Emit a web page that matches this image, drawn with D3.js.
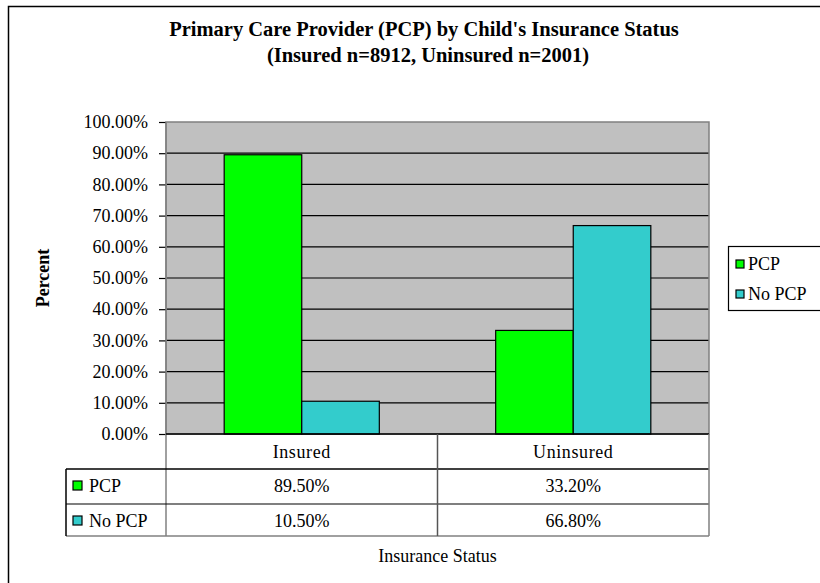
<!DOCTYPE html>
<html>
<head>
<meta charset="utf-8">
<script src="https://cdn.jsdelivr.net/npm/d3@7"></script>
<style>
  body { margin: 0; background: #fff; }
  svg { display: block; font-family: "Liberation Serif", "Times New Roman", serif; }
</style>
</head>
<body>
<svg width="820" height="583"></svg>
<script>
// data
var categories = ["Insured", "Uninsured"];
var seriesNames = ["PCP", "No PCP"];
var pcpValues = [89.5, 33.2];
var noPcpValues = [10.5, 66.8];
var yTicks = [0, 10, 20, 30, 40, 50, 60, 70, 80, 90, 100];
var colors = ["#00FF00", "#33CCCC"];

var seriesValues = [pcpValues, noPcpValues];

var svg = d3.select("svg"),
    margin = {top: 122, left: 166, right: 111, bottom: 149},
    width = 820 - margin.left - margin.right,
    height = 583 - margin.top - margin.bottom;

// chart area border (runs off the right and bottom of the picture)
svg.append("rect")
    .attr("x", 8.5).attr("y", 6.5)
    .attr("width", 900).attr("height", 700)
    .attr("fill", "#fff").attr("stroke", "#000").attr("stroke-width", 1.5);

svg.append("text")
    .attr("x", 424).attr("y", 36)
    .attr("text-anchor", "middle")
    .style("font-size", "20.5px").style("font-weight", "bold")
    .text("Primary Care Provider (PCP) by Child's Insurance Status");
svg.append("text")
    .attr("x", 428).attr("y", 62)
    .attr("text-anchor", "middle")
    .style("font-size", "20.5px").style("font-weight", "bold")
    .text("(Insured n=8912, Uninsured n=2001)");

var g = svg.append("g").attr("transform", "translate(" + margin.left + "," + margin.top + ")");

var x0 = d3.scaleBand().domain(categories).range([0, width]);
var x1 = d3.scaleBand().domain(seriesNames).range([0, x0.bandwidth()]).paddingOuter(0.75);
var y = d3.scaleLinear().domain([0, 100]).range([height, 0]);

// plot area
g.append("rect")
    .attr("width", width).attr("height", height)
    .attr("fill", "#C0C0C0");

g.selectAll(".grid")
    .data(yTicks.slice(1, -1))
    .enter().append("line")
        .attr("class", "grid")
        .attr("x1", 0).attr("x2", width)
        .attr("y1", function(d) { return y(d); })
        .attr("y2", function(d) { return y(d); })
        .attr("stroke", "#000").attr("stroke-width", 1.2);

g.append("rect")
    .attr("width", width).attr("height", height)
    .attr("fill", "none").attr("stroke", "#808080").attr("stroke-width", 1.5);

// bars
g.selectAll(".cat")
    .data(categories)
    .enter().append("g")
        .attr("class", "cat")
        .attr("transform", function(d) { return "translate(" + x0(d) + ",0)"; })
    .selectAll("rect")
    .data(function(d, i) { return seriesNames.map(function(s, j) { return {key: s, idx: j, value: seriesValues[j][i]}; }); })
    .enter().append("rect")
        .attr("x", function(d) { return x1(d.key); })
        .attr("y", function(d) { return y(d.value); })
        .attr("width", x1.bandwidth())
        .attr("height", function(d) { return height - y(d.value); })
        .attr("fill", function(d) { return colors[d.idx]; })
        .attr("stroke", "#000").attr("stroke-width", 1.2);

// y axis
var yAxis = g.append("g")
    .call(d3.axisLeft(y).tickValues(yTicks).tickSize(7).tickPadding(11)
        .tickFormat(function(d) { return d3.format(".2f")(d) + "%"; }));
yAxis.select(".domain").remove();
yAxis.selectAll(".tick line").attr("stroke", "#000").attr("stroke-width", 1.2);
yAxis.selectAll("text")
    .style("font-family", "Liberation Serif, serif")
    .style("font-size", "18px").attr("fill", "#000");
g.append("line")
    .attr("x1", 0).attr("x2", 0).attr("y1", 0).attr("y2", height + 102)
    .attr("stroke", "#808080").attr("stroke-width", 1.5);

svg.append("text")
    .attr("transform", "translate(49," + (margin.top + height / 2) + ") rotate(-90)")
    .attr("text-anchor", "middle")
    .style("font-size", "18px").style("font-weight", "bold")
    .text("Percent");

// data table under the plot
var rowH = [35, 35, 32];
var tableLeft = 66 - margin.left;
var tbl = g.append("g").attr("transform", "translate(0," + height + ")");

tbl.append("line")
    .attr("x1", 0).attr("x2", width).attr("y1", 0).attr("y2", 0)
    .attr("stroke", "#000").attr("stroke-width", 1.5);
tbl.append("line")
    .attr("x1", tableLeft).attr("x2", width).attr("y1", rowH[0]).attr("y2", rowH[0])
    .attr("stroke", "#000").attr("stroke-width", 1.5);
tbl.append("line")
    .attr("x1", tableLeft).attr("x2", width).attr("y1", rowH[0] + rowH[1]).attr("y2", rowH[0] + rowH[1])
    .attr("stroke", "#000").attr("stroke-width", 1.2);
tbl.append("line")
    .attr("x1", tableLeft).attr("x2", width).attr("y1", rowH[0] + rowH[1] + rowH[2]).attr("y2", rowH[0] + rowH[1] + rowH[2])
    .attr("stroke", "#808080").attr("stroke-width", 1.5);
tbl.append("line")
    .attr("x1", tableLeft).attr("x2", tableLeft).attr("y1", rowH[0]).attr("y2", rowH[0] + rowH[1] + rowH[2])
    .attr("stroke", "#000").attr("stroke-width", 1.5);
tbl.append("line")
    .attr("x1", width).attr("x2", width).attr("y1", 0).attr("y2", rowH[0] + rowH[1] + rowH[2])
    .attr("stroke", "#808080").attr("stroke-width", 1.5);
tbl.selectAll(".vsep")
    .data(categories.slice(1))
    .enter().append("line")
        .attr("class", "vsep")
        .attr("x1", function(d) { return x0(d); })
        .attr("x2", function(d) { return x0(d); })
        .attr("y1", 0).attr("y2", rowH[0] + rowH[1] + rowH[2])
        .attr("stroke", "#555").attr("stroke-width", 1.5);

tbl.selectAll(".catlabel")
    .data(categories)
    .enter().append("text")
        .attr("class", "catlabel")
        .attr("x", function(d) { return x0(d) + x0.bandwidth() / 2; })
        .attr("y", rowH[0] / 2 + 6)
        .attr("text-anchor", "middle")
        .style("font-size", "18px").style("letter-spacing", "0.6px")
        .text(function(d) { return d; });

seriesNames.forEach(function(s, j) {
    var rowY = rowH[0] + j * rowH[1] + 23;
    tbl.append("rect")
        .attr("x", tableLeft + 7).attr("y", rowY - 11)
        .attr("width", 9).attr("height", 9)
        .attr("fill", colors[j]).attr("stroke", "#000").attr("stroke-width", 1.2);
    tbl.append("text")
        .attr("x", tableLeft + 23).attr("y", rowY)
        .style("font-size", "18px")
        .text(s);
    tbl.selectAll(".val" + j)
        .data(categories)
        .enter().append("text")
            .attr("x", function(d) { return x0(d) + x0.bandwidth() / 2; })
            .attr("y", rowY)
            .attr("text-anchor", "middle")
            .style("font-size", "18px")
            .text(function(d, i) { return d3.format(".2f")(seriesValues[j][i]) + "%"; });
});

svg.append("text")
    .attr("x", margin.left + width / 2).attr("y", 562)
    .attr("text-anchor", "middle")
    .style("font-size", "18px")
    .text("Insurance Status");

// legend
var legend = svg.append("g").attr("transform", "translate(728,246)");
legend.append("rect")
    .attr("x", 0.5).attr("y", 0.5).attr("width", 120).attr("height", 64)
    .attr("fill", "#fff").attr("stroke", "#000").attr("stroke-width", 1.2);
var item = legend.selectAll(".legend")
    .data(seriesNames)
    .enter().append("g")
        .attr("class", "legend")
        .attr("transform", function(d, i) { return "translate(0," + (i * 30 + 24) + ")"; });
item.append("rect")
    .attr("x", 8).attr("y", -10)
    .attr("width", 8).attr("height", 8)
    .attr("fill", function(d, i) { return colors[i]; })
    .attr("stroke", "#000").attr("stroke-width", 1.2);
item.append("text")
    .attr("x", 20).attr("y", 0)
    .style("font-size", "18px")
    .text(function(d) { return d; });
</script>
</body>
</html>
